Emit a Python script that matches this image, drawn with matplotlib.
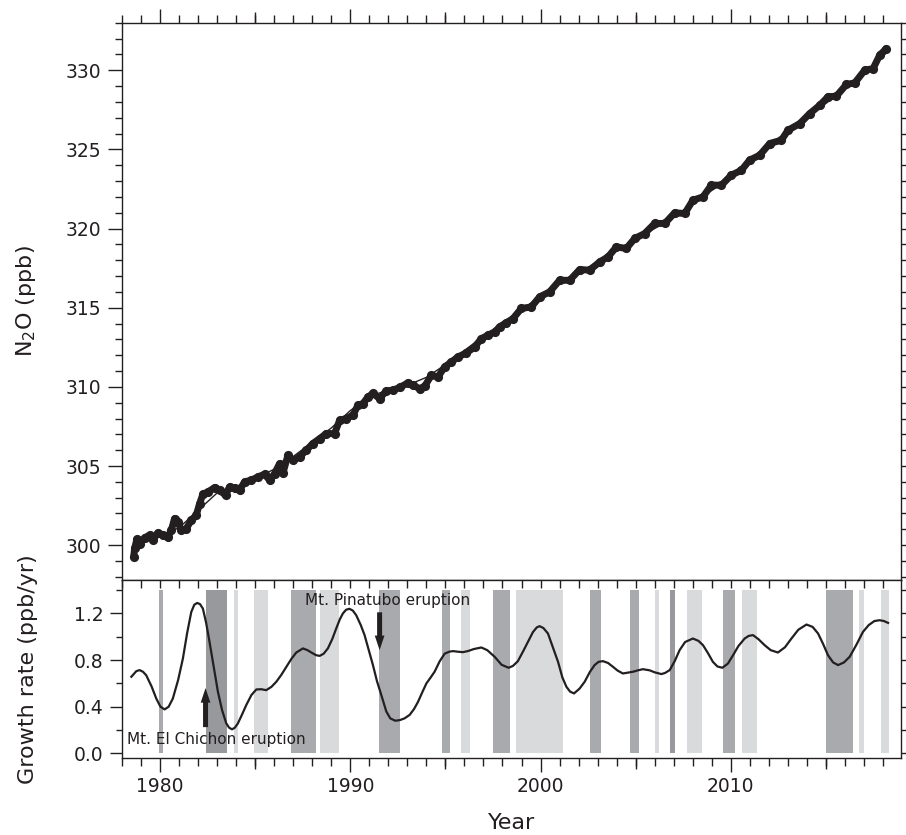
import matplotlib
matplotlib.use('Agg')
import matplotlib.pyplot as plt
from matplotlib.ticker import MultipleLocator, NullFormatter, FormatStrFormatter

# N2O record (year, ppb)
n2o_year = [1978.61, 1978.66, 1978.78, 1978.92, 1979.19, 1979.45, 1979.62, 1979.88,
            1980.15, 1980.41, 1980.59, 1980.76, 1980.94, 1981.11, 1981.38, 1981.64,
            1981.90, 1982.08, 1982.25, 1982.51, 1982.87, 1983.13, 1983.44, 1983.65,
            1983.92, 1984.18, 1984.44, 1984.79, 1985.14, 1985.49, 1985.76, 1986.02,
            1986.28, 1986.46, 1986.72, 1986.98, 1987.33, 1987.69, 1988.03, 1988.39,
            1988.74, 1989.17, 1989.44, 1989.79, 1990.14, 1990.40, 1990.66, 1990.93,
            1991.19, 1991.54, 1991.89, 1992.24, 1992.59, 1993.03, 1993.29, 1993.64,
            1993.91, 1994.26, 1994.61, 1994.96, 1995.31, 1995.66, 1996.10, 1996.54,
            1996.89, 1997.24, 1997.59, 1997.85, 1998.20, 1998.55, 1998.99, 1999.52,
            1999.95, 2000.48, 2001.00, 2001.53, 2002.06, 2002.58, 2003.11, 2003.55,
            2003.99, 2004.51, 2004.95, 2005.47, 2006.00, 2006.53, 2007.05, 2007.58,
            2008.01, 2008.54, 2008.98, 2009.51, 2010.03, 2010.56, 2010.99, 2011.52,
            2012.05, 2012.66, 2013.01, 2013.63, 2014.15, 2014.68, 2015.11, 2015.55,
            2016.08, 2016.52, 2017.04, 2017.48, 2017.83, 2018.18]
n2o_ppb = [299.26, 299.79, 300.37, 300.10, 300.48, 300.63, 300.31, 300.77,
           300.63, 300.52, 300.94, 301.68, 301.47, 300.94, 301.05, 301.57,
           301.89, 302.63, 303.22, 303.36, 303.64, 303.47, 303.15, 303.68,
           303.58, 303.47, 304.00, 304.10, 304.31, 304.48, 304.10, 304.52,
           305.15, 304.56, 305.68, 305.36, 305.57, 306.00, 306.42, 306.73,
           307.05, 307.05, 307.89, 308.00, 308.21, 308.84, 308.94, 309.36,
           309.58, 309.26, 309.74, 309.79, 309.96, 310.25, 310.10, 309.89,
           310.04, 310.73, 310.63, 311.26, 311.57, 311.89, 312.14, 312.52,
           313.05, 313.26, 313.47, 313.79, 314.05, 314.31, 314.95, 315.05,
           315.68, 316.00, 316.73, 316.73, 317.41, 317.37, 317.89, 318.21,
           318.84, 318.74, 319.37, 319.68, 320.32, 320.32, 320.99, 320.95,
           321.79, 322.00, 322.74, 322.74, 323.37, 323.68, 324.32, 324.63,
           325.37, 325.58, 326.21, 326.63, 327.26, 327.79, 328.32, 328.36,
           329.10, 329.20, 330.00, 330.10, 330.95, 331.37]

# smoothed trend (thin line)
trend_year = [1978.6, 1979, 1980, 1981, 1982, 1983, 1984, 1985, 1986, 1987, 1988,
              1989, 1990, 1991, 1992, 1993, 1994, 1995, 1996, 1997, 1998, 1999,
              2000, 2001, 2002, 2003, 2004, 2005, 2006, 2007, 2008, 2009, 2010,
              2011, 2012, 2013, 2014, 2015, 2016, 2017, 2018, 2018.2]
trend_ppb = [299.9, 300.2, 300.6, 301.1, 302.2, 303.3, 303.7, 304.2, 304.8, 305.6, 306.5,
             307.4, 308.5, 309.4, 309.8, 310.1, 310.6, 311.4, 312.3, 313.2, 314.0, 314.8,
             315.8, 316.6, 317.2, 317.9, 318.6, 319.3, 320.0, 320.7, 321.6, 322.4, 323.2,
             324.2, 325.1, 326.0, 327.0, 327.9, 328.8, 329.8, 330.9, 331.1]

# growth rate (ppb/yr)
growth_year = [1978.49, 1978.75, 1978.92, 1979.10, 1979.27, 1979.55, 1979.80, 1980.02,
               1980.24, 1980.45, 1980.67, 1980.95, 1981.20, 1981.42, 1981.64, 1981.80,
               1981.95, 1982.10, 1982.25, 1982.42, 1982.60, 1982.82, 1983.04, 1983.26,
               1983.48, 1983.63, 1983.78, 1983.93, 1984.09, 1984.30, 1984.53, 1984.80,
               1985.06, 1985.32, 1985.58, 1985.85, 1986.11, 1986.38, 1986.64, 1986.90,
               1987.16, 1987.51, 1987.75, 1987.95, 1988.20, 1988.39, 1988.60, 1988.82,
               1989.05, 1989.26, 1989.45, 1989.61, 1989.78, 1989.95, 1990.13, 1990.31,
               1990.55, 1990.75, 1990.98, 1991.19, 1991.40, 1991.63, 1991.89, 1992.10,
               1992.36, 1992.60, 1992.85, 1993.12, 1993.35, 1993.56, 1993.80, 1994.00,
               1994.22, 1994.43, 1994.70, 1994.96, 1995.20, 1995.40, 1995.65, 1995.92,
               1996.20, 1996.50, 1996.89, 1997.20, 1997.59, 1997.95, 1998.32, 1998.55,
               1998.81, 1999.10, 1999.34, 1999.60, 1999.80, 1999.95, 2000.15, 2000.39,
               2000.65, 2000.92, 2001.15, 2001.36, 2001.55, 2001.76, 2002.05, 2002.32,
               2002.60, 2002.84, 2003.05, 2003.28, 2003.55, 2003.81, 2004.05, 2004.33,
               2004.60, 2004.86, 2005.12, 2005.38, 2005.74, 2006.00, 2006.35, 2006.55,
               2006.79, 2007.05, 2007.31, 2007.60, 2008.01, 2008.30, 2008.54, 2008.80,
               2009.06, 2009.30, 2009.56, 2009.85, 2010.12, 2010.40, 2010.73, 2010.95,
               2011.17, 2011.45, 2011.78, 2012.10, 2012.48, 2012.85, 2013.19, 2013.55,
               2013.98, 2014.30, 2014.59, 2014.85, 2015.11, 2015.38, 2015.64, 2015.95,
               2016.25, 2016.60, 2016.95, 2017.25, 2017.55, 2017.83, 2018.05, 2018.27]
growth_rate = [0.657, 0.705, 0.714, 0.700, 0.670, 0.575, 0.470, 0.400,
               0.377, 0.400, 0.470, 0.630, 0.814, 1.030, 1.213, 1.275,
               1.290, 1.280, 1.242, 1.120, 0.956, 0.740, 0.528, 0.370,
               0.257, 0.220, 0.206, 0.220, 0.257, 0.330, 0.414, 0.500,
               0.548, 0.550, 0.542, 0.570, 0.614, 0.675, 0.742, 0.810,
               0.865, 0.900, 0.885, 0.865, 0.842, 0.836, 0.855, 0.900,
               0.980, 1.071, 1.150, 1.200, 1.232, 1.240, 1.225, 1.185,
               1.100, 1.014, 0.880, 0.757, 0.620, 0.500, 0.360, 0.300,
               0.280, 0.285, 0.300, 0.330, 0.380, 0.442, 0.530, 0.600,
               0.650, 0.700, 0.790, 0.855, 0.872, 0.877, 0.872, 0.868,
               0.878, 0.895, 0.908, 0.885, 0.828, 0.760, 0.734, 0.750,
               0.791, 0.880, 0.956, 1.040, 1.080, 1.091, 1.075, 1.028,
               0.910, 0.785, 0.650, 0.571, 0.530, 0.514, 0.555, 0.614,
               0.700, 0.757, 0.785, 0.791, 0.775, 0.742, 0.710, 0.685,
               0.693, 0.700, 0.712, 0.722, 0.712, 0.695, 0.680, 0.690,
               0.714, 0.790, 0.885, 0.955, 0.985, 0.965, 0.928, 0.860,
               0.785, 0.745, 0.734, 0.770, 0.842, 0.920, 0.985, 1.008,
               1.014, 0.980, 0.928, 0.885, 0.865, 0.910, 0.985, 1.060,
               1.105, 1.085, 1.028, 0.940, 0.842, 0.780, 0.757, 0.780,
               0.828, 0.930, 1.042, 1.100, 1.135, 1.142, 1.135, 1.119]

# shaded periods
band_start = [1979.92, 1982.43, 1983.86, 1984.92, 1986.86, 1988.39, 1991.50, 1994.84,
              1995.80, 1997.50, 1998.69, 2002.58, 2004.68, 2006.00, 2006.82, 2007.68,
              2009.58, 2010.57, 2014.99, 2016.73, 2017.89]
band_end = [1980.17, 1983.50, 1984.07, 1985.69, 1988.18, 1989.39, 1992.59, 1995.26,
            1996.29, 1998.41, 2001.18, 2003.16, 2005.16, 2006.25, 2007.09, 2008.51,
            2010.24, 2011.38, 2016.41, 2016.99, 2018.31]
band_shade = ['mid', 'dark', 'light', 'light', 'mid', 'light', 'mid', 'mid',
              'light', 'mid', 'light', 'mid', 'mid', 'light', 'dark', 'light',
              'mid', 'light', 'mid', 'light', 'light']
band_top = 1.4

INK = '#231f20'
SHADES = {'dark': '#98999c', 'mid': '#a9aaad', 'light': '#d9dadc'}

plt.rcParams['font.family'] = ['DejaVu Sans']
plt.rcParams['text.color'] = INK
plt.rcParams['axes.labelcolor'] = INK
plt.rcParams['xtick.color'] = INK
plt.rcParams['ytick.color'] = INK
plt.rcParams['axes.edgecolor'] = INK

fig = plt.figure(figsize=(9.06, 8.35), dpi=100)
ax1 = fig.add_axes([0.1347, 0.3054, 0.8598, 0.6674])
ax2 = fig.add_axes([0.1347, 0.0922, 0.8598, 0.2132])

xlim = (1978, 2018.95)
lab_fs = 16
tick_fs = 13.5

# --- upper panel: N2O
ax1.plot(trend_year, trend_ppb, color=INK, lw=1.0, zorder=2)
ax1.plot(n2o_year, n2o_ppb, color=INK, lw=5.0, solid_joinstyle='round',
         solid_capstyle='round', marker='o', ms=6.6, mew=0, zorder=3)
ax1.set_xlim(*xlim)
ax1.set_ylim(297.8, 333)
ax1.set_ylabel('N$_2$O (ppb)', fontsize=lab_fs)
ax1.yaxis.set_label_coords(-0.108, 0.5)

ax1.xaxis.set_major_locator(MultipleLocator(10))
ax1.xaxis.set_minor_locator(MultipleLocator(1))
ax1.tick_params(axis='x', which='both', direction='out', top=True, bottom=False,
                labeltop=False, labelbottom=False, width=1.0)
ax1.tick_params(axis='x', which='major', length=10)
ax1.tick_params(axis='x', which='minor', length=5.5)
sec = ax1.secondary_xaxis('top')
sec.set_xticks([1985, 1995, 2005, 2015])
sec.xaxis.set_major_formatter(NullFormatter())
sec.tick_params(length=8, width=1.0, direction='out')
sec.spines['top'].set_visible(False)

ax1.yaxis.set_major_locator(MultipleLocator(5))
ax1.yaxis.set_minor_locator(MultipleLocator(1))
ax1.tick_params(axis='y', which='both', direction='out', left=True, right=True,
                width=1.0, labelsize=tick_fs, pad=5)
ax1.tick_params(axis='y', which='major', length=10)
ax1.tick_params(axis='y', which='minor', length=5)

# --- lower panel: growth rate
widths = [e - s for s, e in zip(band_start, band_end)]
ax2.bar(band_start, [band_top] * len(band_start), width=widths, bottom=0, align='edge',
        color=[SHADES[s] for s in band_shade], linewidth=0, zorder=1)
ax2.plot(growth_year, growth_rate, color=INK, lw=1.6, zorder=3)
ax2.set_xlim(*xlim)
ax2.set_ylim(-0.04, 1.487)

ax2.text(1987.6, 1.314, 'Mt. Pinatubo eruption', fontsize=11, va='center', zorder=4)
ax2.text(1978.24, 0.122, 'Mt. El Chichon eruption', fontsize=11, va='center', zorder=4)
arrow = dict(facecolor=INK, edgecolor='none', width=3.6, headwidth=7, headlength=10.5, shrink=0)
ax2.annotate('', xy=(1982.39, 0.56), xytext=(1982.39, 0.225), arrowprops=arrow, zorder=4)
ax2.annotate('', xy=(1991.54, 0.885), xytext=(1991.54, 1.21), arrowprops=arrow, zorder=4)

ax2.xaxis.set_major_locator(MultipleLocator(10))
ax2.xaxis.set_minor_locator(MultipleLocator(1))
ax2.tick_params(axis='x', which='both', direction='out', top=False, bottom=True,
                width=1.0, labelsize=tick_fs, pad=4)
ax2.tick_params(axis='x', which='major', length=10)
ax2.tick_params(axis='x', which='minor', length=5.5)
sec_b = ax2.secondary_xaxis('bottom')
sec_b.set_xticks([1985, 1995, 2005, 2015])
sec_b.xaxis.set_major_formatter(NullFormatter())
sec_b.tick_params(length=8, width=1.0, direction='out')
sec_b.spines['bottom'].set_visible(False)
sec_t = ax2.secondary_xaxis('top')
sec_t.xaxis.set_major_locator(MultipleLocator(1))
sec_t.xaxis.set_major_formatter(NullFormatter())
sec_t.tick_params(length=5.5, width=1.0, direction='in')
sec_t.spines['top'].set_visible(False)

ax2.yaxis.set_major_locator(MultipleLocator(0.4))
ax2.yaxis.set_minor_locator(MultipleLocator(0.2))
ax2.yaxis.set_major_formatter(FormatStrFormatter('%.1f'))
ax2.tick_params(axis='y', which='both', direction='out', left=True, right=True,
                width=1.0, labelsize=tick_fs, pad=5)
ax2.tick_params(axis='y', which='major', length=8.5)
ax2.tick_params(axis='y', which='minor', length=4.5)
ax2.set_ylabel('Growth rate (ppb/yr)', fontsize=lab_fs)
ax2.yaxis.set_label_coords(-0.108, 0.5)
ax2.set_xlabel('Year', fontsize=lab_fs)
ax2.xaxis.set_label_coords(0.5, -0.31)

for ax in (ax1, ax2):
    for sp in ax.spines.values():
        sp.set_linewidth(1.0)

fig.savefig('out.png', dpi=100)
